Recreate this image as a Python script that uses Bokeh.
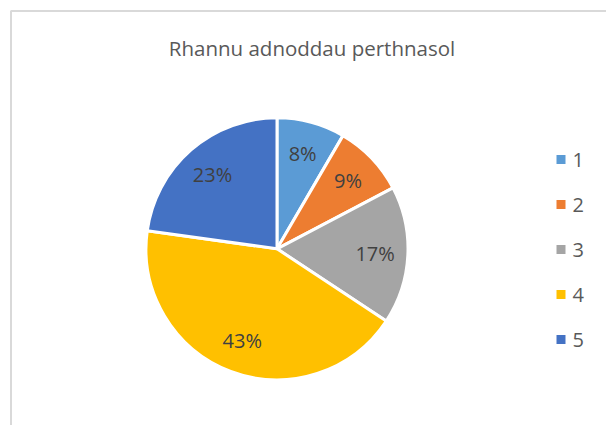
import numpy as np
from bokeh.plotting import figure
from bokeh.models import Range1d, ColumnDataSource
from bokeh.core.properties import value
from bokeh.embed import file_html
from bokeh.resources import INLINE

# ---- data ----
title = "Rhannu adnoddau perthnasol"
categories = ["1", "2", "3", "4", "5"]
shares = [8.4, 8.9, 17.0, 42.9, 22.8]
colors = ["#5B9BD5", "#ED7D31", "#A5A5A5", "#FFC000", "#4472C4"]

# ---- layout (page pixels; figure spans the whole window) ----
W, H = 606, 425
def px(x):
    return x
def py(y):
    return H - y

cx, cy, R = px(276.5), py(248.3), 131
FONT = "Open Sans"

p = figure(width=W, height=H, x_range=Range1d(0, W), y_range=Range1d(0, H),
           x_axis_type=None, y_axis_type=None, toolbar_location=None,
           output_backend="svg", min_border=0)
p.grid.visible = False
p.outline_line_color = None
p.background_fill_color = "white"
p.border_fill_color = "white"

# chart area border (only top & left visible in the crop)
p.line(x=[px(10.5), px(10.5), px(640)], y=[py(440), py(10.5), py(10.5)],
       line_color="#D9D9D9", line_width=2)

# pie
vals = np.array(shares, dtype=float)
frac = vals / vals.sum()
cum = np.concatenate([[0], np.cumsum(frac)])
start = np.pi / 2 - 2 * np.pi * cum[:-1]
end = np.pi / 2 - 2 * np.pi * cum[1:]
src = ColumnDataSource(dict(start=start, end=end, color=colors, cat=categories))
p.wedge(x=cx, y=cy, radius=R, start_angle="start", end_angle="end",
        direction="clock", fill_color="color", line_color="white",
        line_width=3, source=src)

# data labels
mid = (start + end) / 2
lr = 0.75 * R
labels = [f"{round(v)}%" for v in frac * 100]
lx = cx + lr * np.cos(mid)
ly = cy + lr * np.sin(mid)
p.text(x=lx, y=ly, text=labels, text_align="center", text_baseline="middle",
       text_font=value(FONT), text_font_size="20px", text_color="#404040")

# title
p.text(x=[px(311.5)], y=[py(47)], text=[title], text_align="center",
       text_baseline="middle", text_font=value(FONT),
       text_font_size="20.5px", text_color="#595959")

# legend
idx = np.arange(len(categories))
leg_y = py(159 + 45 * idx)
p.scatter(x=px(560.5), y=leg_y, marker="square", size=9, fill_color=colors,
          line_color=None)
p.text(x=px(572), y=leg_y, text=categories, text_align="left",
       text_baseline="middle", text_font=value(FONT),
       text_font_size="20px", text_color="#595959")

open("out.html", "w").write(file_html(p, INLINE))
